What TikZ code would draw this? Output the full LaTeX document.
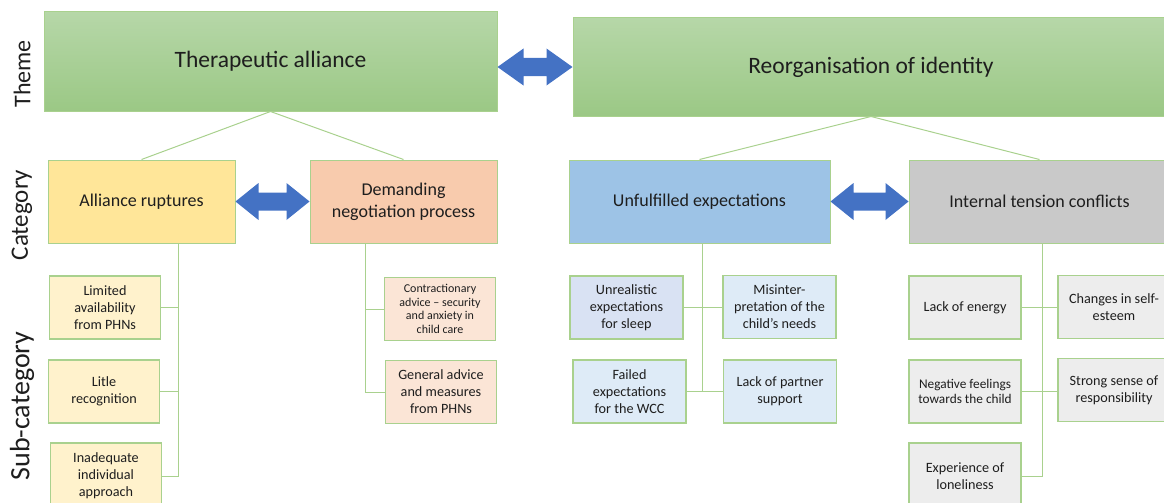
\documentclass[tikz,border=0pt]{standalone}
\usepackage{fontspec}
\setmainfont{Carlito}
\usetikzlibrary{calc}

\definecolor{edgegreen}{HTML}{A9D18E}
\definecolor{themetop}{HTML}{B6D7A8}
\definecolor{themebot}{HTML}{9BC885}
\definecolor{catyellow}{HTML}{FFE699}
\definecolor{catpeach}{HTML}{F8CBAD}
\definecolor{catblue}{HTML}{9DC3E6}
\definecolor{catgrey}{HTML}{C9C9C9}
\definecolor{subyellow}{HTML}{FFF2CC}
\definecolor{subpeach}{HTML}{FBE5D6}
\definecolor{subblue}{HTML}{DEEBF7}
\definecolor{subblueb}{HTML}{D9E2F3}
\definecolor{subgrey}{HTML}{EDEDED}
\definecolor{arrowblue}{HTML}{4472C4}
\definecolor{inkdark}{HTML}{1E1E1E}

% double-headed block arrow between two points: #1 left end, #2 right end, #3 head length
\newcommand{\blockarrow}[3]{%
  \fill[arrowblue] let \p1=#1, \p2=#2 in
    (\x1,\y2) -- (\x1+#3,\y2+18.5pt) -- (\x1+#3,\y2+9pt) -- (\x2-#3,\y2+9pt)
    -- (\x2-#3,\y2+18.5pt) -- (\x2,\y2) -- (\x2-#3,\y2-18.5pt) -- (\x2-#3,\y2-9pt)
    -- (\x1+#3,\y2-9pt) -- (\x1+#3,\y2-18.5pt) -- cycle;}

\tikzset{
  box/.style={draw=edgegreen, line width=1pt, anchor=center, align=center,
    inner sep=1pt, text=inkdark},
  theme/.style={box, top color=themetop, bottom color=themebot,
    font=\fontsize{23.5}{28}\selectfont},
  cat/.style={box, font=\fontsize{18}{22}\selectfont, minimum width=#1, minimum height=83pt},
  sub/.style={box, line width=1.2pt, font=\fontsize{14.2}{17}\selectfont,
    minimum width=#1, minimum height=63pt},
  small/.style={font=\fontsize{12}{13.5}\selectfont},
  smallb/.style={font=\fontsize{13.3}{14.5}\selectfont},
  conn/.style={draw=edgegreen, line width=1pt},
  rowlabel/.style={rotate=90, anchor=center, text=inkdark},
}

\begin{document}
\begin{tikzpicture}[x=1pt, y=-1pt]
  \useasboundingbox (0,0) rectangle (1164,503);
  \clip (0,0) rectangle (1164,503);

  % row labels
  \node[rowlabel, font=\fontsize{24}{28}\selectfont] (lbtheme) at (22,74) {Theme};
  \node[rowlabel, font=\fontsize{25}{29}\selectfont] (lbcat) at (22,215) {Category};
  \node[rowlabel, font=\fontsize{28}{32}\selectfont] (lbsub) at (22,406) {Sub-category};

  % themes
  \node[theme, minimum width=453pt, minimum height=99pt] (th1) at (270.5,61.5) {Therapeutic alliance};
  \node[theme, minimum width=596pt, minimum height=98pt] (th2) at (871,67) {Reorganisation of identity};

  % categories
  \node[cat=187pt, fill=catyellow] (ar) at (141.5,201.5) {Alliance ruptures};
  \node[cat=187pt, fill=catpeach] (dem) at (403.5,201.5) {Demanding\\negotiation process};
  \node[cat=261pt, fill=catblue] (uf) at (699.5,201.5) {Unfulfilled expectations};
  \node[cat=261pt, fill=catgrey] (it) at (1039.5,201.5) {Internal tension conflicts};

  % theme to category links
  \draw[conn] (th1.south) -- (ar.north);
  \draw[conn] (th1.south) -- (dem.north);
  \draw[conn] (th2.south) -- (uf.north);
  \draw[conn] (th2.south) -- (it.north);

  % sub-categories: alliance ruptures
  \node[sub=111pt, fill=subyellow] (lim) at (105,307.5) {Limited\\availability\\from PHNs};
  \node[sub=111pt, fill=subyellow] (lit) at (104,391.5) {Litle\\recognition};
  \node[sub=111pt, fill=subyellow, minimum height=66pt] (inad) at (106,476) {Inadequate\\individual\\approach};

  % sub-categories: demanding negotiation process
  \node[sub=111pt, fill=subpeach, small] (con) at (440,309) {Contractionary\\advice -- security\\and anxiety in\\child care};
  \node[sub=111pt, fill=subpeach] (gen) at (441,392) {General advice\\and measures\\from PHNs};

  % sub-categories: unfulfilled expectations
  \node[sub=113pt, fill=subblueb] (unr) at (626.5,307.5) {Unrealistic\\expectations\\for sleep};
  \node[sub=113pt, fill=subblue] (mis) at (779.5,307) {Misinter-\\pretation of the\\child's needs};
  \node[sub=113pt, fill=subblue] (fail) at (629.5,391.5) {Failed\\expectations\\for the WCC};
  \node[sub=113pt, fill=subblue] (lack) at (780,391.5) {Lack of partner\\support};

  % sub-categories: internal tension conflicts
  \node[sub=112pt, fill=subgrey] (en) at (965,307.5) {Lack of energy};
  \node[sub=112pt, fill=subgrey] (chg) at (1114,307) {Changes in self-\\esteem};
  \node[sub=112pt, fill=subgrey, smallb] (neg) at (965,391.5) {Negative feelings\\towards the child};
  \node[sub=112pt, fill=subgrey] (str) at (1114,390) {Strong sense of\\responsibility};
  \node[sub=112pt, fill=subgrey, minimum height=66pt] (exp) at (965,476) {Experience of\\loneliness};

  % trunks below the categories
  \coordinate (t1) at (178,243);
  \coordinate (t2) at (365.5,243);
  \coordinate (t3) at (702,243);
  \coordinate (t4) at (1042,243);

  \draw[conn] (t1) |- (lim.east);
  \draw[conn] (t1) |- (lit.east);
  \draw[conn] (t1) |- (inad.east);

  \draw[conn] (t2) |- (con.west);
  \draw[conn] (t2) |- (gen.west);

  \draw[conn] (unr.east) -- (unr.east -| mis.west);
  \draw[conn] (fail.east) -- (fail.east -| lack.west);
  \draw[conn] (t3) -- (t3 |- fail.east);

  \draw[conn] (en.east) -- (en.east -| chg.west);
  \draw[conn] (neg.east) -- (neg.east -| str.west);
  \draw[conn] (t4) |- (exp.east);

  % block arrows between related boxes
  \blockarrow{(th1.east)}{(th2.west)}{26pt}
  \blockarrow{(ar.east)}{(dem.west)}{23pt}
  \blockarrow{(uf.east)}{(it.west)}{23pt}
\end{tikzpicture}
\end{document}
